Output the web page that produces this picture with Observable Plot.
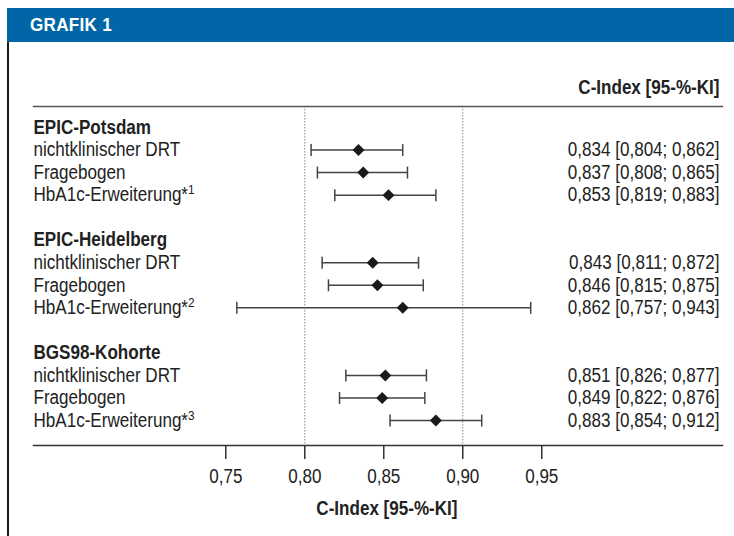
<!DOCTYPE html>
<html><head><meta charset="utf-8">
<script src="https://cdn.jsdelivr.net/npm/d3@7"></script>
<script src="https://cdn.jsdelivr.net/npm/@observablehq/plot@0.6"></script>
<style>
html,body{margin:0;padding:0;background:#fff;width:734px;height:536px;overflow:hidden;position:relative}
#hdr{position:absolute;left:7px;top:8px;width:727px;height:34px;background:#0066a8;box-sizing:border-box;padding-left:23px;}
#hdr span{display:inline-block;color:#fff;font:bold 19px "Liberation Sans",Arial,sans-serif;line-height:34px;transform:scaleX(0.9);transform-origin:0 50%;letter-spacing:0.3px}
#frame{position:absolute;left:7px;top:42px;bottom:0;border-left:2px solid #1c1c1c;}
#chart{position:absolute;left:0;top:42px;}
</style></head><body>
<div id="hdr"><span>GRAFIK 1</span></div>
<div id="frame"></div>
<div id="chart"></div>
<script>
const groups = ["EPIC-Potsdam", "EPIC-Heidelberg", "BGS98-Kohorte"];
const models = ["nichtklinischer DRT", "Fragebogen", "HbA1c-Erweiterung"];
const footnotes = ["1", "2", "3"];
const estimate = [[0.834, 0.837, 0.853], [0.843, 0.846, 0.862], [0.851, 0.849, 0.883]];
const lower = [[0.804, 0.808, 0.819], [0.811, 0.815, 0.757], [0.826, 0.822, 0.854]];
const upper = [[0.862, 0.865, 0.883], [0.872, 0.875, 0.943], [0.877, 0.876, 0.912]];
const tickValues = [0.75, 0.80, 0.85, 0.90, 0.95];
const refLines = [0.80, 0.90];
const axisTitle = "C-Index [95-%-KI]";

const dec = (f) => (v) => d3.format(f)(v).replace(".", ",");
const f3 = dec(".3f");
const f2 = dec(".2f");

const headings = groups.map((g, gi) => ({row: gi * 5, label: g}));
const rows = [];
groups.forEach((g, gi) => {
  models.forEach((m, mi) => {
    rows.push({
      row: gi * 5 + 1 + mi,
      label: m,
      note: mi === 2 ? footnotes[gi] : null,
      est: estimate[gi][mi],
      lo: lower[gi][mi],
      hi: upper[gi][mi],
      value: `${f3(estimate[gi][mi])} [${f3(lower[gi][mi])}; ${f3(upper[gi][mi])}]`
    });
  });
});

const capSymbol = {draw(ctx) { ctx.moveTo(0, -6); ctx.lineTo(0, 6); }};
const font = "'Liberation Sans',Arial,sans-serif";

const chart = Plot.plot({
  width: 734,
  height: 494,
  marginLeft: 33,
  marginRight: 12,
  marginTop: 64,
  marginBottom: 91,
  style: {fontFamily: font, fontSize: "19.5px", color: "#222", background: "transparent", overflow: "visible"},
  x: {domain: [0.6283, 1.0644], axis: null},
  y: {domain: [-0.932, 14.108], reverse: true, axis: null},
  marks: [
    Plot.ruleX(refLines, {stroke: "#888", strokeWidth: 1, strokeDasharray: "1.5,1.5"}),
    Plot.frame({anchor: "top", stroke: "#555", strokeWidth: 1.5}),
    Plot.frame({anchor: "bottom", stroke: "#333", strokeWidth: 1.5}),
    Plot.axisX({ticks: tickValues, tickFormat: f2, tickSize: 14, tickPadding: 10, stroke: "#333", strokeWidth: 1.5, fill: "#222", label: null, fontSize: 19.5}),
    Plot.ruleY(rows, {x1: "lo", x2: "hi", y: "row", stroke: "#444", strokeWidth: 1.5}),
    Plot.dot(rows, {x: "lo", y: "row", symbol: capSymbol, stroke: "#444", strokeWidth: 1.5, fill: "none"}),
    Plot.dot(rows, {x: "hi", y: "row", symbol: capSymbol, stroke: "#444", strokeWidth: 1.5, fill: "none"}),
    Plot.dot(rows, {x: "est", y: "row", symbol: "diamond2", r: 5.4, fill: "#1a1a1a", stroke: "none"}),
    Plot.text(headings, {y: "row", text: "label", frameAnchor: "left", textAnchor: "start", fontWeight: "bold", fill: "#222"}),
    Plot.text(rows, {y: "row", text: "label", frameAnchor: "left", textAnchor: "start", fill: "#222", className: "rowlabel"}),
    Plot.text(rows, {y: "row", text: "value", frameAnchor: "right", textAnchor: "end", dx: -3, fill: "#222"}),
    Plot.text([axisTitle], {frameAnchor: "top-right", lineAnchor: "middle", textAnchor: "end", dx: -3, dy: -19, fontWeight: "bold", fill: "#222"}),
    Plot.text([axisTitle], {x: [0.852], frameAnchor: "bottom", lineAnchor: "middle", dy: 63, fontWeight: "bold", fill: "#222"})
  ]
});
// footnote superscripts "*n" appended to the row labels
const ns = "http://www.w3.org/2000/svg";
chart.querySelectorAll("g.rowlabel text, .rowlabel text").forEach((t, i) => {
  const d = rows[i];
  if (!d || !d.note || t.dataset.done) return;
  t.dataset.done = "1";
  const star = document.createElementNS(ns, "tspan");
  star.textContent = "*";
  const sup = document.createElementNS(ns, "tspan");
  sup.setAttribute("font-size", "13.5px");
  sup.setAttribute("dy", "-7");
  sup.textContent = d.note;
  t.appendChild(star);
  t.appendChild(sup);
});
// narrow the type horizontally around each text anchor (condensed look)
const S = 0.875;
chart.querySelectorAll("text").forEach(t => {
  const x = parseFloat(t.getAttribute("x")) || 0;
  const tr = t.getAttribute("transform") || "";
  t.setAttribute("transform", `${tr} translate(${x},0) scale(${S},1) translate(${-x},0)`);
});
document.getElementById("chart").appendChild(chart);
</script>
</body></html>
